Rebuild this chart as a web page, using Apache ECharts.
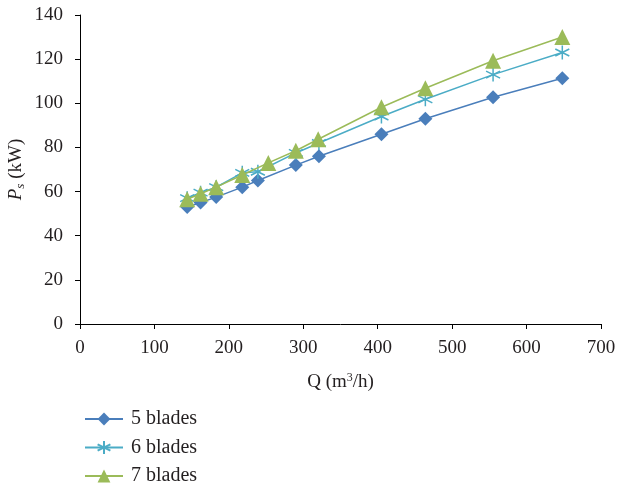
<!DOCTYPE html>
<html>
<head>
<meta charset="utf-8">
<script src="https://cdn.jsdelivr.net/npm/echarts@6/dist/echarts.min.js"></script>
<style>html,body{margin:0;padding:0;background:#fff}#c{width:619px;height:487px}</style>
</head>
<body>
<div id="c"></div>
<script>
const seriesNames = ['5 blades', '6 blades', '7 blades'];
const q5 = [144, 162, 183, 218, 239, 290, 321, 405, 464, 555, 648];
const p5 = [53, 55, 57.5, 62, 65, 72, 76, 86, 93, 102.7, 111.3];
const q6 = [144, 162, 183, 218, 239, 290, 321, 405, 464, 555, 648];
const p6 = [57, 59.5, 62, 68.5, 69, 77.5, 82, 94, 101.8, 113, 123];
const q7 = [144, 162, 183, 218, 253, 290, 320, 405, 464, 555, 648];
const p7 = [56.5, 59, 62, 67.5, 73, 78.5, 83.7, 98.2, 106.8, 119.3, 130];
const xTicks = [0, 100, 200, 300, 400, 500, 600, 700];
const yTicks = [0, 20, 40, 60, 80, 100, 120, 140];

const colors = ['#4a7ebb', '#4bacc6', '#9bbb59'];
const asterisk = 'path://M5 0 L5 10 M0.7 2.5 L9.3 7.5 M0.7 7.5 L9.3 2.5';
const symbols = ['diamond', asterisk, 'triangle'];
const symbolSizes = [14, 14, 16];
const qs = [q5, q6, q7];
const ps = [p5, p6, p7];
const font = 'Liberation Serif';
const txt = '#231f20';

const chart = echarts.init(document.getElementById('c'));
chart.setOption({
  animation: false,
  textStyle: { fontFamily: font },
  grid: { left: 80, right: 18, top: 15, bottom: 163, containLabel: false, outerBoundsMode: 'none' },
  legend: {
    orient: 'vertical', left: 84, top: 409, height: 90, padding: 0,
    itemWidth: 38, itemHeight: 16, itemGap: 8.5,
    textStyle: { fontFamily: font, fontSize: 20, color: txt, padding: [0, 0, 0, 3] },
    data: seriesNames
  },
  xAxis: {
    type: 'value', min: xTicks[0], max: xTicks[xTicks.length - 1], interval: 100,
    name: '{a|Q (m}{sup|3}{a|/h)}', nameLocation: 'middle', nameGap: 48, nameMoveOverlap: false,
    nameTextStyle: {
      fontFamily: font, fontSize: 19, color: txt,
      rich: {
        a: { fontFamily: font, fontSize: 19, color: txt },
        sup: { fontFamily: font, fontSize: 12, color: txt, padding: [0, 0, 9, 0] }
      }
    },
    axisLine: { lineStyle: { color: '#000', width: 1 } },
    axisTick: { show: true, length: 5, lineStyle: { color: '#000' } },
    axisLabel: { fontFamily: font, fontSize: 19, color: txt, margin: 15 },
    splitLine: { show: false }
  },
  yAxis: {
    type: 'value', min: yTicks[0], max: yTicks[yTicks.length - 1], interval: 20,
    name: '{p|P}{s|s} (kW)', nameLocation: 'middle', nameGap: 53, nameMoveOverlap: false,
    nameTextStyle: {
      fontFamily: font, fontSize: 19, color: txt,
      rich: {
        p: { fontFamily: font, fontSize: 19, fontStyle: 'italic', color: txt },
        s: { fontFamily: font, fontSize: 13, fontStyle: 'italic', color: txt, padding: [9, 0, 0, 0] }
      }
    },
    axisLine: { show: true, lineStyle: { color: '#000', width: 1 } },
    axisTick: { show: true, length: 5, lineStyle: { color: '#000' } },
    axisLabel: { fontFamily: font, fontSize: 19, color: txt, margin: 17 },
    splitLine: { show: false }
  },
  series: seriesNames.map((n, i) => ({
    name: n, type: 'line',
    data: qs[i].map((q, j) => [q, ps[i][j]]),
    symbol: symbols[i], symbolSize: symbolSizes[i],
    showAllSymbol: true,
    lineStyle: { color: colors[i], width: 1.5 },
    itemStyle: i === 1
      ? { color: colors[i], borderColor: colors[i], borderWidth: 1.5 }
      : { color: colors[i], borderWidth: 0 },
    z: 2 + i
  }))
});
</script>
</body>
</html>
